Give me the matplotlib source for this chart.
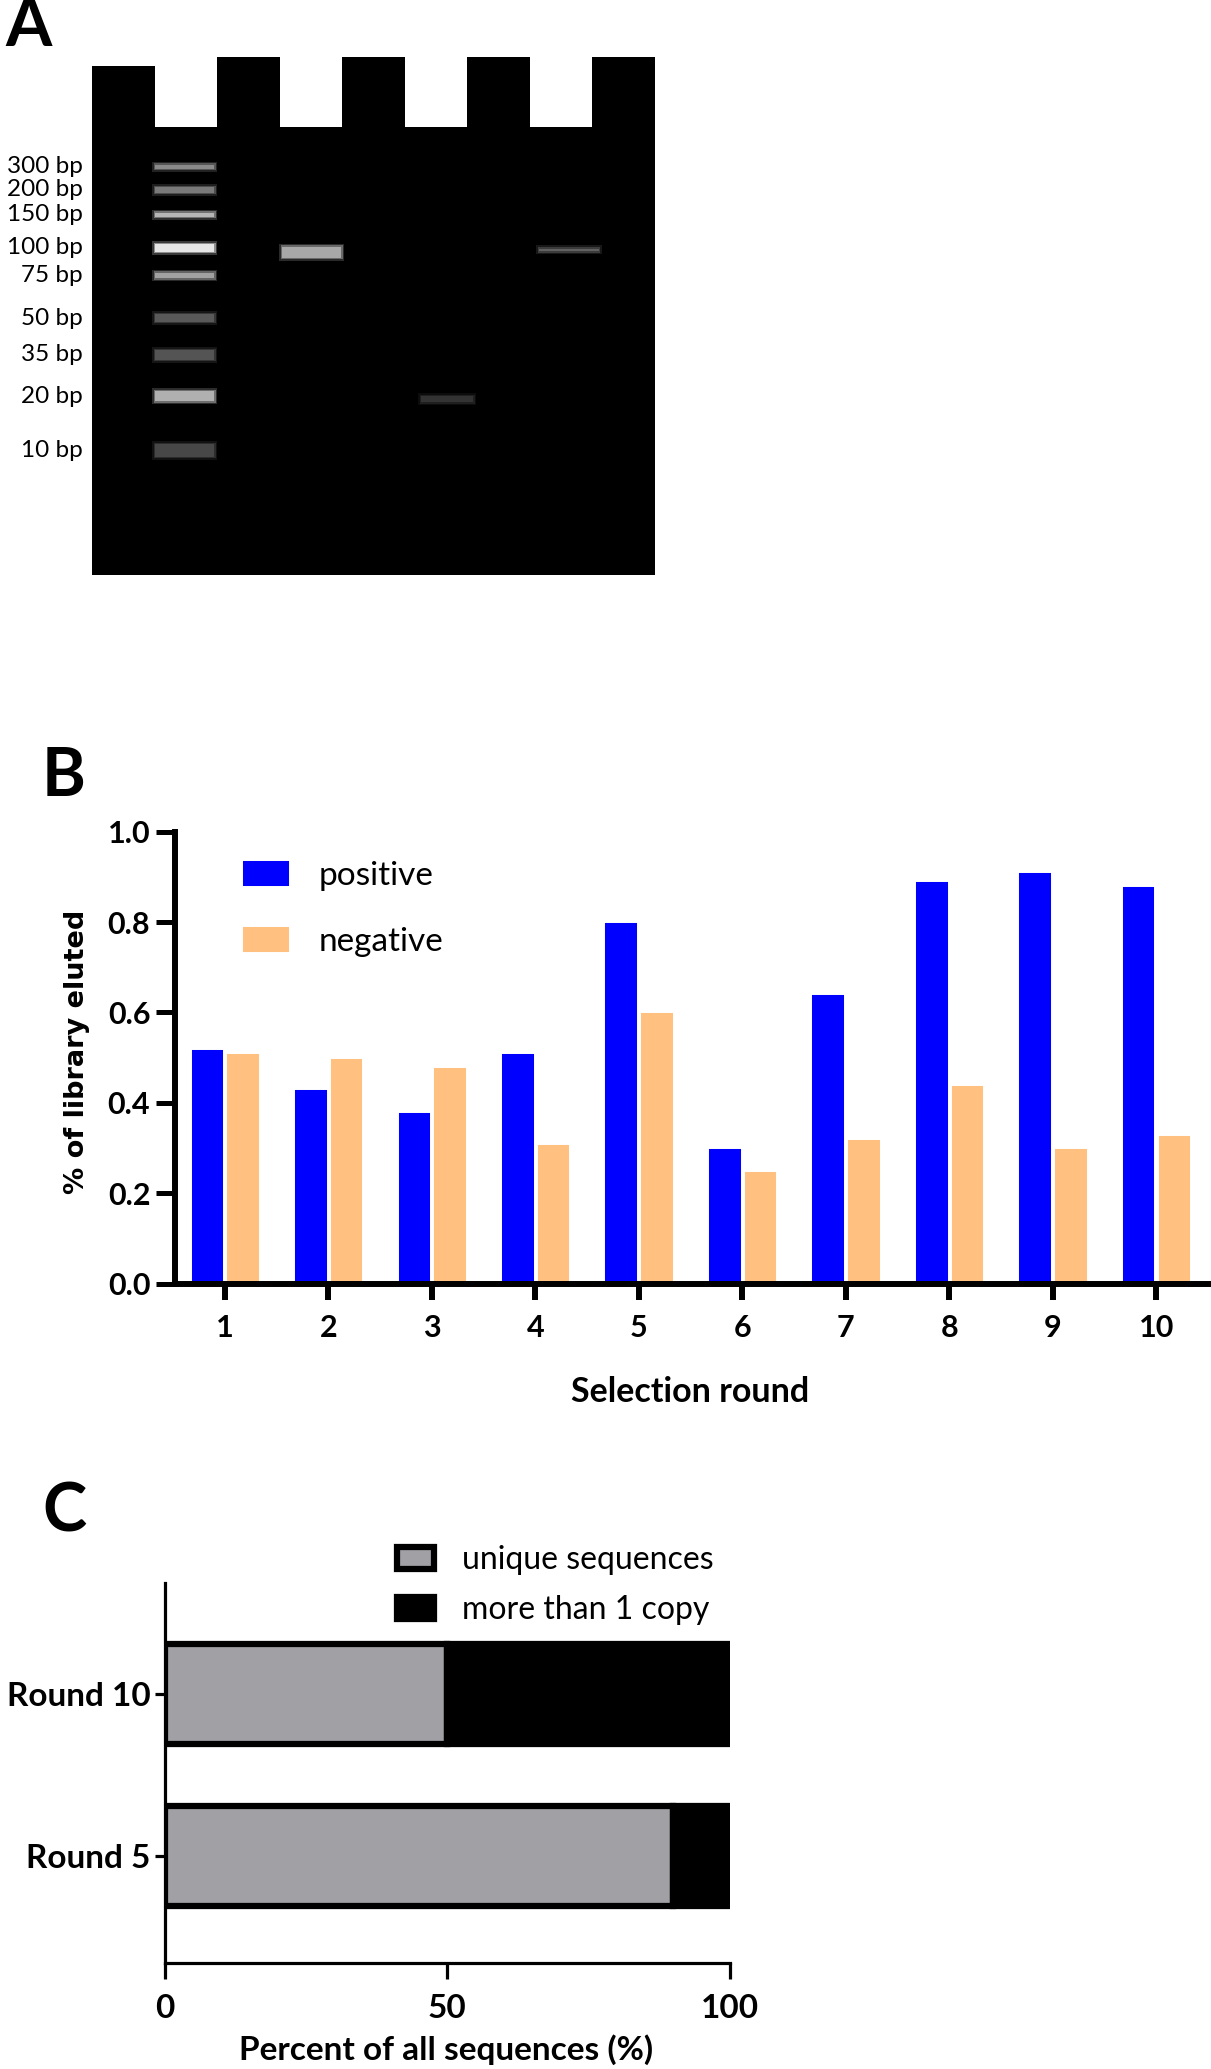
import matplotlib

matplotlib.use("Agg")
import matplotlib.pyplot as plt  # noqa: E402
from matplotlib.patches import Polygon, Rectangle  # noqa: E402
from matplotlib.ticker import FormatStrFormatter  # noqa: E402

plt.rcParams["font.family"] = ["Lato", "DejaVu Sans"]

# ---- panel A: gel (positions in lane-width units below the well bottom) ----
ladder_bp = [300, 200, 150, 100, 75, 50, 35, 20, 10]
ladder_pos = [0.63, 1.00, 1.40, 1.93, 2.37, 3.05, 3.64, 4.30, 5.17]
ladder_level = [0.54, 0.48, 0.71, 0.90, 0.63, 0.35, 0.33, 0.69, 0.28]
ladder_thick = [0.06, 0.085, 0.06, 0.12, 0.085, 0.12, 0.15, 0.16, 0.20]
ladder_span = (1.01, 1.95)

sample_x0 = [3.04, 5.26, 7.15]
sample_x1 = [3.98, 6.09, 8.10]
sample_pos = [2.00, 4.35, 1.96]
sample_level = [0.66, 0.20, 0.38]
sample_thick = [0.17, 0.09, 0.04]

well_edges = [1, 2, 3, 4, 5, 6, 7, 8]
gel_width = 9
gel_length = 7.16
well_depth = 1.12
first_tooth = 0.98

# ---- panel B ----
rounds = [1, 2, 3, 4, 5, 6, 7, 8, 9, 10]
positive = [0.52, 0.43, 0.38, 0.51, 0.80, 0.30, 0.64, 0.89, 0.91, 0.88]
negative = [0.51, 0.50, 0.48, 0.31, 0.60, 0.25, 0.32, 0.44, 0.30, 0.33]

# ---- panel C ----
seq_rounds = ["Round 5", "Round 10"]
unique_pct = [90, 50]
multi_pct = [10, 50]

BLUE = "#0000FF"
ORANGE = "#FFC080"
GREY = "#A1A0A5"

W, H = 1211, 2069
fig = plt.figure(figsize=(W / 100, H / 100), dpi=100)


def px_axes(left, top, right, bottom):
    return fig.add_axes([left / W, 1 - bottom / H, (right - left) / W, (bottom - top) / H])


def draw_band(ax, x0, x1, y, thick, level):
    # soft glow first, then the band itself
    for grow, alpha in ((0.05, 0.25), (0.025, 0.5)):
        ax.add_patch(Rectangle((x0 - grow, y - thick / 2 - grow), x1 - x0 + 2 * grow,
                               thick + 2 * grow, color=str(level), alpha=alpha, lw=0))
    ax.add_patch(Rectangle((x0, y - thick / 2), x1 - x0, thick, color=str(level), lw=0))


# ================= A =================
axA = px_axes(92.3, 57.3, 655, 575)
verts = [(0, gel_length), (0, -first_tooth)]
for i, edge in enumerate(well_edges):
    if i % 2 == 0:  # tooth -> well
        tooth_top = -first_tooth if i == 0 else -well_depth
        verts += [(edge, tooth_top), (edge, 0)]
    else:  # well -> tooth
        verts += [(edge, 0), (edge, -well_depth)]
verts += [(gel_width, -well_depth), (gel_width, gel_length)]
axA.add_patch(Polygon(verts, closed=True, color="black", lw=0))

for bp, pos, lev, th in zip(ladder_bp, ladder_pos, ladder_level, ladder_thick):
    draw_band(axA, ladder_span[0], ladder_span[1], pos, th, lev)
    axA.text(-0.15, pos, f"{bp} bp", ha="right", va="center", fontsize=17.5, clip_on=False)
for x0, x1, pos, lev, th in zip(sample_x0, sample_x1, sample_pos, sample_level, sample_thick):
    draw_band(axA, x0, x1, pos, th, lev)

axA.set_xlim(0, gel_width)
axA.set_ylim(gel_length, -well_depth)
axA.axis("off")

# ================= B =================
axB = px_axes(175.3, 831.7, 1209, 1283.7)
bw = 0.325
axB.bar([r - 0.17 for r in rounds], positive, width=bw, color=BLUE, edgecolor="white",
        linewidth=1.4, label="positive", zorder=2)
axB.bar([r + 0.175 for r in rounds], negative, width=bw, color=ORANGE, edgecolor="white",
        linewidth=1.4, label="negative", zorder=2)
axB.set_xlim(0.52, 10.51)
axB.set_ylim(0, 1.0)
axB.set_yticks([0, 0.2, 0.4, 0.6, 0.8, 1.0])
axB.yaxis.set_major_formatter(FormatStrFormatter("%.1f"))
axB.set_xticks(rounds)
for side in ("top", "right"):
    axB.spines[side].set_visible(False)
for side in ("left", "bottom"):
    axB.spines[side].set_linewidth(4.3)
    axB.spines[side].set_capstyle("projecting")
    axB.spines[side].set_zorder(5)
axB.tick_params(axis="y", length=14, width=3.6, pad=4, labelsize=22)
axB.tick_params(axis="x", length=11.5, width=4.3, pad=10, labelsize=22)
for lab in axB.get_xticklabels() + axB.get_yticklabels():
    lab.set_fontweight("bold")
axB.set_xlabel("Selection round", fontsize=24.5, fontweight="bold")
axB.xaxis.set_label_coords(0.498, -0.205)
axB.set_ylabel("% of library eluted", fontsize=19.5, fontweight="bold", family="DejaVu Sans")
axB.yaxis.set_label_coords(-0.083, 0.513)
axB.legend(frameon=False, loc="upper left", bbox_to_anchor=(0.0645, 0.937), borderpad=0,
           borderaxespad=0, handlelength=1.45, handleheight=0.85, handletextpad=0.85,
           labelspacing=1.05, fontsize=24)

# ================= C =================
axC = px_axes(165, 1583, 729.5, 1962.5)
ypos = range(len(seq_rounds))
axC.barh(ypos, unique_pct, height=0.62, color=GREY, edgecolor="black", linewidth=4.5,
         label="unique sequences", zorder=2)
axC.barh(ypos, multi_pct, left=unique_pct, height=0.62, color="black", edgecolor="black",
         linewidth=4.5, label="more than 1 copy", zorder=2)
axC.set_xlim(0, 100)
axC.set_ylim(-0.66, 1.69)
axC.set_xticks([0, 50, 100])
axC.set_yticks(list(ypos))
axC.set_yticklabels(seq_rounds)
for side in ("top", "right"):
    axC.spines[side].set_visible(False)
for side in ("left", "bottom"):
    axC.spines[side].set_linewidth(2.3)
    axC.spines[side].set_capstyle("projecting")
    axC.spines[side].set_zorder(5)
axC.tick_params(axis="y", length=7.5, width=2.3, pad=3, labelsize=24)
axC.tick_params(axis="x", length=11.5, width=2.3, pad=11, labelsize=24)
for lab in axC.get_xticklabels() + axC.get_yticklabels():
    lab.set_fontweight("bold")
axC.set_xlabel("Percent of all sequences (%)", fontsize=24, fontweight="bold")
axC.xaxis.set_label_coords(0.498, -0.188)
axC.legend(frameon=False, loc="upper left", bbox_to_anchor=(0.411, 1.10), borderpad=0,
           borderaxespad=0, handlelength=1.16, handleheight=0.68, handletextpad=0.87,
           labelspacing=0.62, fontsize=23)

# panel letters
for letter, x, y in (("A", 5, -4), ("B", 42, 746), ("C", 42, 1482)):
    fig.text(x / W, 1 - y / H, letter, ha="left", va="top", fontsize=48, fontweight="bold")

fig.savefig("out.png", dpi=100)
